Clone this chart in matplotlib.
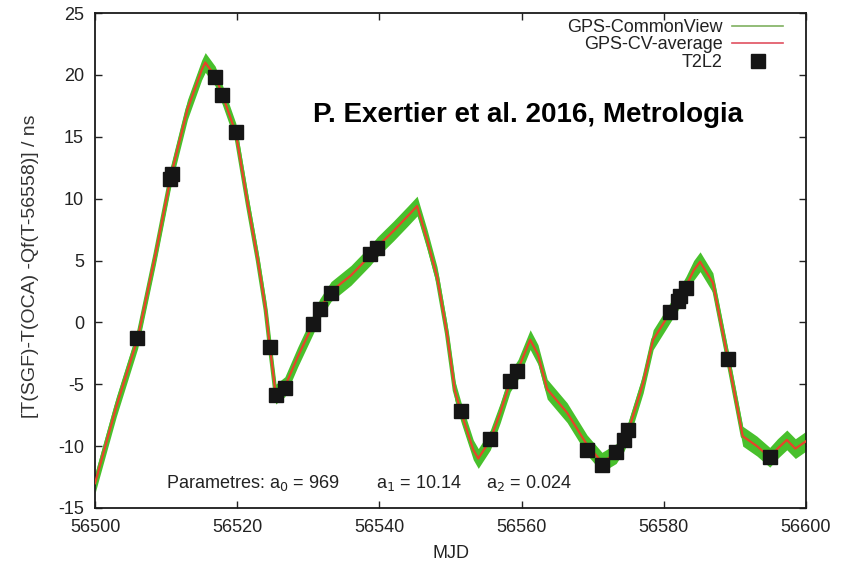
#!/usr/bin/env python3
import matplotlib
matplotlib.use("Agg")
import matplotlib.pyplot as plt
from matplotlib.lines import Line2D
import numpy as np

plt.rcParams['font.family'] = ['Liberation Sans', 'DejaVu Sans']
plt.rcParams['axes.unicode_minus'] = False

# averaged GPS common view curve (MJD, ns)
mjd = [56500.0, 56503.0, 56506.0, 56508.5, 56510.7, 56513.0, 56515.0, 56515.5,
       56516.9, 56517.9, 56519.8, 56521.5, 56522.9, 56524.0, 56524.6, 56525.4,
       56526.7, 56528.5, 56530.7, 56531.6, 56533.2, 56536.0, 56538.7, 56539.7,
       56542.0, 56544.0, 56545.3, 56546.7, 56548.1, 56549.5, 56550.6, 56551.5,
       56553.2, 56553.9, 56555.6, 56557.0, 56558.4, 56559.5, 56561.2, 56562.3,
       56563.6, 56566.4, 56569.2, 56571.3, 56573.3, 56574.4, 56575.0, 56577.1,
       56578.5, 56580.9, 56582.0, 56583.1, 56584.2, 56585.1, 56586.9, 56589.0,
       56591.1, 56593.1, 56594.9, 56596.0, 56597.3, 56598.5, 56600.0]
cv_avg = [-13.0, -6.8, -1.3, 5.5, 11.9, 17.2, 20.4, 21.0,
          19.9, 18.4, 15.3, 9.5, 5.0, 1.0, -2.0, -5.8,
          -5.2, -2.8, -0.1, 1.1, 2.5, 3.8, 5.4, 6.1,
          7.4, 8.6, 9.4, 6.7, 3.7, -0.9, -5.5, -7.3,
          -10.3, -11.0, -9.5, -7.3, -4.8, -3.8, -1.4, -2.6,
          -5.4, -7.3, -9.9, -11.3, -10.6, -9.6, -8.8, -4.9,
          -1.4, 0.8, 1.8, 2.9, 4.2, 4.9, 3.2, -2.9,
          -9.2, -10.0, -10.9, -10.2, -9.5, -10.2, -9.6]

# T2L2 comparison points
t2l2_mjd = [56505.9, 56510.6, 56510.8, 56516.9, 56517.9, 56519.8, 56524.6,
            56525.5, 56526.7, 56530.7, 56531.6, 56533.2, 56538.7, 56539.7,
            56551.5, 56555.6, 56558.4, 56559.3, 56569.2, 56571.3, 56573.3,
            56574.4, 56575.0, 56580.9, 56582.0, 56582.3, 56583.1, 56589.0,
            56594.9]
t2l2_val = [-1.3, 11.6, 12.0, 19.8, 18.4, 15.4, -2.0,
            -5.9, -5.3, -0.1, 1.1, 2.4, 5.5, 6.0,
            -7.2, -9.4, -4.7, -3.9, -10.3, -11.5, -10.5,
            -9.5, -8.7, 0.8, 1.7, 2.1, 2.8, -2.95,
            -10.85]

green = '#48c02c'
red = '#e8432a'
txt = '#222222'
band = 0.8  # half height of the green common-view scatter, ns

fig = plt.figure(figsize=(8.44, 5.63), dpi=100)
ax = fig.add_axes([0.1126, 0.0977, 0.8424, 0.8792])

cv = np.array(cv_avg)
ax.fill_between(mjd, cv - band, cv + band, color=green, linewidth=0, zorder=2)
ax.plot(mjd, cv_avg, color=green, linewidth=3, zorder=2)
ax.plot(mjd, cv_avg, color=red, linewidth=1.6, zorder=3)
ax.plot(t2l2_mjd, t2l2_val, linestyle='None', marker='s', markersize=10,
        color='#151515', zorder=4)

ax.set_xlim(56500, 56600)
ax.set_ylim(-15, 25)
ax.set_xticks(np.arange(56500, 56601, 20))
ax.set_yticks(np.arange(-15, 26, 5))
ax.tick_params(direction='in', top=True, right=True, length=5, width=1,
               labelsize=13, colors=txt, pad=8)
for s in ax.spines.values():
    s.set_linewidth(1.3)
    s.set_color('#1a1a1a')

ax.set_xlabel('MJD', fontsize=13, color=txt, va='center')
ax.xaxis.set_label_coords(0.5, -0.091)
ax.set_ylabel('[T(SGF)-T(OCA) -Qf(T-56558)] / ns', fontsize=14,
              color='#333333', va='center')
ax.yaxis.set_label_coords(-0.0914, 0.489)

ax.text(56530.66, 16.22, 'P. Exertier et al. 2016, Metrologia', fontsize=20,
        fontweight='bold', va='baseline', ha='left')
ax.text(56510.0, -12.96, 'Parametres: a$_0$ = 969', fontsize=13, va='center',
        color=txt)
ax.text(56539.5, -12.96, 'a$_1$ = 10.14', fontsize=13, va='center', color=txt)
ax.text(56555.0, -12.96, 'a$_2$ = 0.024', fontsize=13, va='center', color=txt)

handles = [Line2D([], [], color='#7fb060', linewidth=1.2),
           Line2D([], [], color='#e05060', linewidth=1.2),
           Line2D([], [], linestyle='None', marker='s', markersize=10,
                  color='#151515')]
leg = ax.legend(handles, ['GPS-CommonView', 'GPS-CV-average', 'T2L2'],
                loc='upper right', bbox_to_anchor=(0.9677, 0.988),
                frameon=False, markerfirst=False, fontsize=13,
                handlelength=2.8, labelspacing=0.03, handletextpad=0.55,
                borderaxespad=0, borderpad=0, alignment='right')
for t in leg.get_texts():
    t.set_ha('right')
    t.set_color(txt)

fig.savefig('out.png', dpi=100)
